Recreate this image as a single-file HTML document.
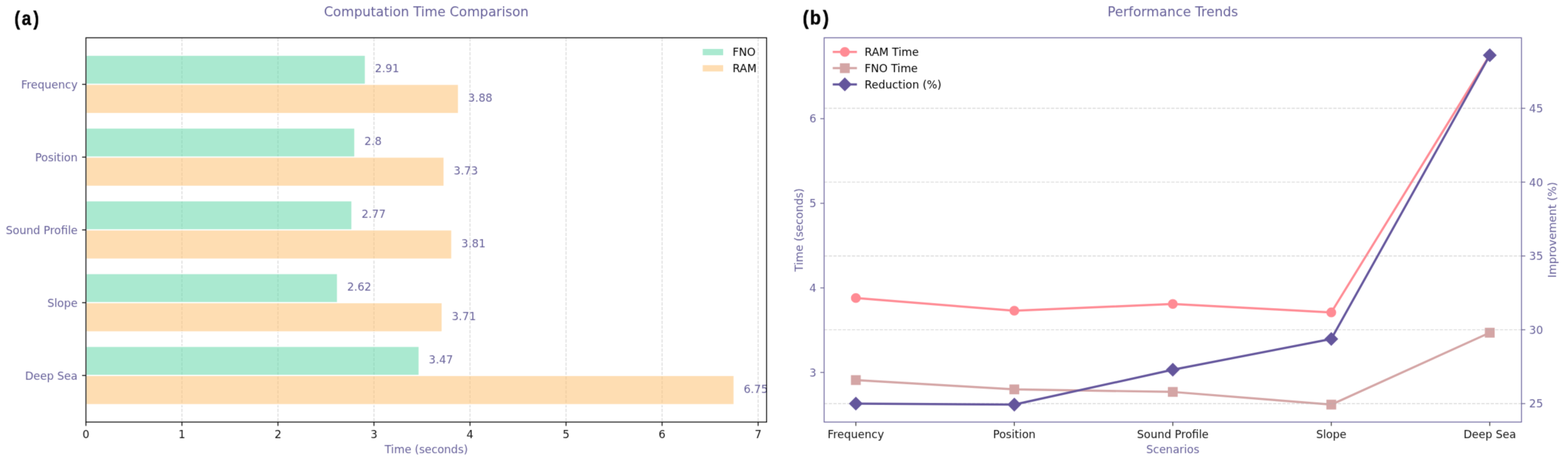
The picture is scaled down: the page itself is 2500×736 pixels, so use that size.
<!DOCTYPE html>
<html><head><meta charset="utf-8"><title>Computation Time Comparison and Performance Trends</title>
<style>html,body{margin:0;padding:0;background:#fff;}svg{display:block;}</style></head>
<body><svg width="2500" height="736" viewBox="0 0 2500 736" font-family="'DejaVu Sans', 'Liberation Sans', sans-serif">
<defs><filter id="bl" x="0" y="0" width="1" height="1" color-interpolation-filters="sRGB"><feConvolveMatrix order="3" kernelMatrix="0.0225 0.1050 0.0225 0.1050 0.4900 0.1050 0.0225 0.1050 0.0225" divisor="1" edgeMode="duplicate" preserveAlpha="true"/></filter></defs>
<rect width="2500" height="736" fill="#fff"/>
<g filter="url(#bl)">
<rect width="2500" height="736" fill="#fff"/>
<text transform="translate(0 39.5) scale(0.84 1)" y="0" font-family="'Liberation Sans', Arial, sans-serif" font-weight="bold" font-size="32.0" fill="#000" stroke="#000" stroke-width="0.5"><tspan x="27.26">(</tspan><tspan x="41.31">a</tspan><tspan x="63.33">)</tspan></text>
<text transform="translate(0 39.4) scale(0.9 1)" y="0" font-family="'Liberation Sans', Arial, sans-serif" font-weight="bold" font-size="32.0" fill="#000" stroke="#000" stroke-width="0.5"><tspan x="1421.92">(</tspan><tspan x="1434.65">b</tspan><tspan x="1457.89">)</tspan></text>
<line x1="290.1" y1="672.4" x2="290.1" y2="60.2" stroke="#b0b0b0" stroke-opacity="0.5" stroke-width="1.39" stroke-dasharray="5.15 2.23" stroke-dashoffset="-1.2"/>
<line x1="443.2" y1="672.4" x2="443.2" y2="60.2" stroke="#b0b0b0" stroke-opacity="0.5" stroke-width="1.39" stroke-dasharray="5.15 2.23" stroke-dashoffset="-1.2"/>
<line x1="596.3" y1="672.4" x2="596.3" y2="60.2" stroke="#b0b0b0" stroke-opacity="0.5" stroke-width="1.39" stroke-dasharray="5.15 2.23" stroke-dashoffset="-1.2"/>
<line x1="749.4" y1="672.4" x2="749.4" y2="60.2" stroke="#b0b0b0" stroke-opacity="0.5" stroke-width="1.39" stroke-dasharray="5.15 2.23" stroke-dashoffset="-1.2"/>
<line x1="902.5" y1="672.4" x2="902.5" y2="60.2" stroke="#b0b0b0" stroke-opacity="0.5" stroke-width="1.39" stroke-dasharray="5.15 2.23" stroke-dashoffset="-1.2"/>
<line x1="1055.6" y1="672.4" x2="1055.6" y2="60.2" stroke="#b0b0b0" stroke-opacity="0.5" stroke-width="1.39" stroke-dasharray="5.15 2.23" stroke-dashoffset="-1.2"/>
<line x1="1208.7" y1="672.4" x2="1208.7" y2="60.2" stroke="#b0b0b0" stroke-opacity="0.5" stroke-width="1.39" stroke-dasharray="5.15 2.23" stroke-dashoffset="-1.2"/>
<rect x="137" y="88.03" width="445.52" height="46.38" fill="#64d7aa" fill-opacity="0.55" stroke="#fff" stroke-width="1.74"/>
<rect x="137" y="134.41" width="594.03" height="46.38" fill="#fdc173" fill-opacity="0.55" stroke="#fff" stroke-width="1.74"/>
<rect x="137" y="203.97" width="428.68" height="46.38" fill="#64d7aa" fill-opacity="0.55" stroke="#fff" stroke-width="1.74"/>
<rect x="137" y="250.35" width="571.06" height="46.38" fill="#fdc173" fill-opacity="0.55" stroke="#fff" stroke-width="1.74"/>
<rect x="137" y="319.92" width="424.09" height="46.38" fill="#64d7aa" fill-opacity="0.55" stroke="#fff" stroke-width="1.74"/>
<rect x="137" y="366.3" width="583.31" height="46.38" fill="#fdc173" fill-opacity="0.55" stroke="#fff" stroke-width="1.74"/>
<rect x="137" y="435.87" width="401.12" height="46.38" fill="#64d7aa" fill-opacity="0.55" stroke="#fff" stroke-width="1.74"/>
<rect x="137" y="482.25" width="568" height="46.38" fill="#fdc173" fill-opacity="0.55" stroke="#fff" stroke-width="1.74"/>
<rect x="137" y="551.82" width="531.26" height="46.38" fill="#64d7aa" fill-opacity="0.55" stroke="#fff" stroke-width="1.74"/>
<rect x="137" y="598.19" width="1033.42" height="46.38" fill="#fdc173" fill-opacity="0.55" stroke="#fff" stroke-width="1.74"/>
<text x="597.83" y="115.42" font-size="17.4" fill="#67619a">2.91</text>
<text x="746.34" y="161.8" font-size="17.4" fill="#67619a">3.88</text>
<text x="580.99" y="231.36" font-size="17.4" fill="#67619a">2.8</text>
<text x="723.37" y="277.74" font-size="17.4" fill="#67619a">3.73</text>
<text x="576.4" y="347.31" font-size="17.4" fill="#67619a">2.77</text>
<text x="735.62" y="393.69" font-size="17.4" fill="#67619a">3.81</text>
<text x="553.43" y="463.26" font-size="17.4" fill="#67619a">2.62</text>
<text x="720.31" y="509.64" font-size="17.4" fill="#67619a">3.71</text>
<text x="683.57" y="579.2" font-size="17.4" fill="#67619a">3.47</text>
<text x="1185.73" y="625.58" font-size="17.4" fill="#67619a">6.75</text>
<rect x="137" y="60.2" width="1085.3" height="612.2" fill="none" stroke="#000000" stroke-width="1.39"/>
<line x1="137" y1="672.4" x2="137" y2="678.49" stroke="#000000" stroke-width="1.39"/>
<text x="137" y="697.8" font-size="17.4" fill="#111" text-anchor="middle">0</text>
<line x1="290.1" y1="672.4" x2="290.1" y2="678.49" stroke="#000000" stroke-width="1.39"/>
<text x="290.1" y="697.8" font-size="17.4" fill="#111" text-anchor="middle">1</text>
<line x1="443.2" y1="672.4" x2="443.2" y2="678.49" stroke="#000000" stroke-width="1.39"/>
<text x="443.2" y="697.8" font-size="17.4" fill="#111" text-anchor="middle">2</text>
<line x1="596.3" y1="672.4" x2="596.3" y2="678.49" stroke="#000000" stroke-width="1.39"/>
<text x="596.3" y="697.8" font-size="17.4" fill="#111" text-anchor="middle">3</text>
<line x1="749.4" y1="672.4" x2="749.4" y2="678.49" stroke="#000000" stroke-width="1.39"/>
<text x="749.4" y="697.8" font-size="17.4" fill="#111" text-anchor="middle">4</text>
<line x1="902.5" y1="672.4" x2="902.5" y2="678.49" stroke="#000000" stroke-width="1.39"/>
<text x="902.5" y="697.8" font-size="17.4" fill="#111" text-anchor="middle">5</text>
<line x1="1055.6" y1="672.4" x2="1055.6" y2="678.49" stroke="#000000" stroke-width="1.39"/>
<text x="1055.6" y="697.8" font-size="17.4" fill="#111" text-anchor="middle">6</text>
<line x1="1208.7" y1="672.4" x2="1208.7" y2="678.49" stroke="#000000" stroke-width="1.39"/>
<text x="1208.7" y="697.8" font-size="17.4" fill="#111" text-anchor="middle">7</text>
<line x1="130.91" y1="134.41" x2="137" y2="134.41" stroke="#000000" stroke-width="1.39"/>
<text x="123.7" y="140.81" font-size="17.4" fill="#67619a" text-anchor="end">Frequency</text>
<line x1="130.91" y1="250.35" x2="137" y2="250.35" stroke="#000000" stroke-width="1.39"/>
<text x="123.7" y="256.75" font-size="17.4" fill="#67619a" text-anchor="end">Position</text>
<line x1="130.91" y1="366.3" x2="137" y2="366.3" stroke="#000000" stroke-width="1.39"/>
<text x="123.7" y="372.7" font-size="17.4" fill="#67619a" text-anchor="end">Sound Profile</text>
<line x1="130.91" y1="482.25" x2="137" y2="482.25" stroke="#000000" stroke-width="1.39"/>
<text x="123.7" y="488.65" font-size="17.4" fill="#67619a" text-anchor="end">Slope</text>
<line x1="130.91" y1="598.19" x2="137" y2="598.19" stroke="#000000" stroke-width="1.39"/>
<text x="123.7" y="604.59" font-size="17.4" fill="#67619a" text-anchor="end">Deep Sea</text>
<text x="679.65" y="721.7" font-size="17.4" fill="#67619a" text-anchor="middle">Time (seconds)</text>
<text x="679.65" y="25.6" font-size="21.0" fill="#67619a" text-anchor="middle">Computation Time Comparison</text>
<rect x="1120.4" y="78" width="32.6" height="10" fill="#64d7aa" fill-opacity="0.55"/>
<rect x="1120.4" y="103.8" width="32.6" height="10" fill="#fdc173" fill-opacity="0.55"/>
<text x="1167.9" y="89.0" font-size="17.4" fill="#000">FNO</text>
<text x="1167.9" y="114.8" font-size="17.4" fill="#000">RAM</text>
<polyline points="1364.54,474.78 1617.22,494.99 1869.9,484.21 2122.58,497.69 2375.26,88.03" fill="none" stroke="#FF8B94" stroke-width="3.48" stroke-linejoin="round" stroke-linecap="butt"/>
<circle cx="1364.54" cy="474.78" r="6.95" fill="#FF8B94" stroke="#FF8B94" stroke-width="1.74"/>
<circle cx="1617.22" cy="494.99" r="6.95" fill="#FF8B94" stroke="#FF8B94" stroke-width="1.74"/>
<circle cx="1869.9" cy="484.21" r="6.95" fill="#FF8B94" stroke="#FF8B94" stroke-width="1.74"/>
<circle cx="2122.58" cy="497.69" r="6.95" fill="#FF8B94" stroke="#FF8B94" stroke-width="1.74"/>
<circle cx="2375.26" cy="88.03" r="6.95" fill="#FF8B94" stroke="#FF8B94" stroke-width="1.74"/>
<polyline points="1364.54,605.49 1617.22,620.32 1869.9,624.36 2122.58,644.57 2375.26,530.03" fill="none" stroke="#D4A5A5" stroke-width="3.48" stroke-linejoin="round"/>
<rect x="1357.59" y="598.54" width="13.9" height="13.9" fill="#D4A5A5" stroke="#D4A5A5" stroke-width="1.74" stroke-linejoin="miter"/>
<rect x="1610.27" y="613.37" width="13.9" height="13.9" fill="#D4A5A5" stroke="#D4A5A5" stroke-width="1.74" stroke-linejoin="miter"/>
<rect x="1862.95" y="617.41" width="13.9" height="13.9" fill="#D4A5A5" stroke="#D4A5A5" stroke-width="1.74" stroke-linejoin="miter"/>
<rect x="2115.63" y="637.62" width="13.9" height="13.9" fill="#D4A5A5" stroke="#D4A5A5" stroke-width="1.74" stroke-linejoin="miter"/>
<rect x="2368.31" y="523.08" width="13.9" height="13.9" fill="#D4A5A5" stroke="#D4A5A5" stroke-width="1.74" stroke-linejoin="miter"/>
<line x1="1314" y1="643" x2="2425.8" y2="643" stroke="#b0b0b0" stroke-opacity="0.5" stroke-width="1.39" stroke-dasharray="5.15 2.23"/>
<line x1="1314" y1="525.38" x2="2425.8" y2="525.38" stroke="#b0b0b0" stroke-opacity="0.5" stroke-width="1.39" stroke-dasharray="5.15 2.23"/>
<line x1="1314" y1="407.77" x2="2425.8" y2="407.77" stroke="#b0b0b0" stroke-opacity="0.5" stroke-width="1.39" stroke-dasharray="5.15 2.23"/>
<line x1="1314" y1="290.15" x2="2425.8" y2="290.15" stroke="#b0b0b0" stroke-opacity="0.5" stroke-width="1.39" stroke-dasharray="5.15 2.23"/>
<line x1="1314" y1="172.54" x2="2425.8" y2="172.54" stroke="#b0b0b0" stroke-opacity="0.5" stroke-width="1.39" stroke-dasharray="5.15 2.23"/>
<polyline points="1364.54,643 1617.22,644.57 1869.9,588.97 2122.58,539.96 2375.26,88.03" fill="none" stroke="#64569c" stroke-width="3.48" stroke-linejoin="round"/>
<polygon points="1364.54,633.17 1374.37,643 1364.54,652.82 1354.71,643" fill="#64569c" stroke="#64569c" stroke-width="1.74" stroke-linejoin="miter"/>
<polygon points="1617.22,634.74 1627.05,644.57 1617.22,654.4 1607.39,644.57" fill="#64569c" stroke="#64569c" stroke-width="1.74" stroke-linejoin="miter"/>
<polygon points="1869.9,579.14 1879.73,588.97 1869.9,598.8 1860.07,588.97" fill="#64569c" stroke="#64569c" stroke-width="1.74" stroke-linejoin="miter"/>
<polygon points="2122.58,530.14 2132.41,539.96 2122.58,549.79 2112.75,539.96" fill="#64569c" stroke="#64569c" stroke-width="1.74" stroke-linejoin="miter"/>
<polygon points="2375.26,78.2 2385.09,88.03 2375.26,97.86 2365.43,88.03" fill="#64569c" stroke="#64569c" stroke-width="1.74" stroke-linejoin="miter"/>
<rect x="1314" y="60.2" width="1111.8" height="612.2" fill="none" stroke="#69629b" stroke-width="1.39"/>
<line x1="1364.54" y1="672.4" x2="1364.54" y2="678.49" stroke="#333" stroke-width="1.39"/>
<text x="1364.54" y="697.6" font-size="17.4" fill="#111" text-anchor="middle">Frequency</text>
<line x1="1617.22" y1="672.4" x2="1617.22" y2="678.49" stroke="#333" stroke-width="1.39"/>
<text x="1617.22" y="697.6" font-size="17.4" fill="#111" text-anchor="middle">Position</text>
<line x1="1869.9" y1="672.4" x2="1869.9" y2="678.49" stroke="#333" stroke-width="1.39"/>
<text x="1869.9" y="697.6" font-size="17.4" fill="#111" text-anchor="middle">Sound Profile</text>
<line x1="2122.58" y1="672.4" x2="2122.58" y2="678.49" stroke="#333" stroke-width="1.39"/>
<text x="2122.58" y="697.6" font-size="17.4" fill="#111" text-anchor="middle">Slope</text>
<line x1="2375.26" y1="672.4" x2="2375.26" y2="678.49" stroke="#333" stroke-width="1.39"/>
<text x="2375.26" y="697.6" font-size="17.4" fill="#111" text-anchor="middle">Deep Sea</text>
<line x1="1307.91" y1="593.37" x2="1314" y2="593.37" stroke="#6c6792" stroke-width="1.39"/>
<text x="1301.7" y="599.77" font-size="17.4" fill="#67619a" text-anchor="end">3</text>
<line x1="1307.91" y1="458.61" x2="1314" y2="458.61" stroke="#6c6792" stroke-width="1.39"/>
<text x="1301.7" y="465.01" font-size="17.4" fill="#67619a" text-anchor="end">4</text>
<line x1="1307.91" y1="323.85" x2="1314" y2="323.85" stroke="#6c6792" stroke-width="1.39"/>
<text x="1301.7" y="330.25" font-size="17.4" fill="#67619a" text-anchor="end">5</text>
<line x1="1307.91" y1="189.09" x2="1314" y2="189.09" stroke="#6c6792" stroke-width="1.39"/>
<text x="1301.7" y="195.49" font-size="17.4" fill="#67619a" text-anchor="end">6</text>
<line x1="2425.8" y1="643" x2="2431.89" y2="643" stroke="#6c6792" stroke-width="1.39"/>
<text x="2438.1" y="649.4" font-size="17.4" fill="#67619a">25</text>
<line x1="2425.8" y1="525.38" x2="2431.89" y2="525.38" stroke="#6c6792" stroke-width="1.39"/>
<text x="2438.1" y="531.78" font-size="17.4" fill="#67619a">30</text>
<line x1="2425.8" y1="407.77" x2="2431.89" y2="407.77" stroke="#6c6792" stroke-width="1.39"/>
<text x="2438.1" y="414.17" font-size="17.4" fill="#67619a">35</text>
<line x1="2425.8" y1="290.15" x2="2431.89" y2="290.15" stroke="#6c6792" stroke-width="1.39"/>
<text x="2438.1" y="296.55" font-size="17.4" fill="#67619a">40</text>
<line x1="2425.8" y1="172.54" x2="2431.89" y2="172.54" stroke="#6c6792" stroke-width="1.39"/>
<text x="2438.1" y="178.94" font-size="17.4" fill="#67619a">45</text>
<text transform="translate(1280.0 366.3) rotate(-90)" font-size="17.4" fill="#67619a" text-anchor="middle">Time (seconds)</text>
<text transform="translate(2480.5 366.3) rotate(-90)" font-size="17.4" fill="#67619a" text-anchor="middle">Improvement (%)</text>
<text x="1869.9" y="721.7" font-size="17.4" fill="#67619a" text-anchor="middle">Scenarios</text>
<text x="1869.9" y="25.6" font-size="21.0" fill="#67619a" text-anchor="middle">Performance Trends</text>
<line x1="1327.7" y1="82.8" x2="1366.3" y2="82.8" stroke="#FF8B94" stroke-width="3.48"/>
<circle cx="1347" cy="82.8" r="6.95" fill="#FF8B94" stroke="#FF8B94" stroke-width="1.74"/>
<text x="1378.5" y="89.2" font-size="17.4" fill="#000">RAM Time</text>
<line x1="1327.7" y1="108.6" x2="1366.3" y2="108.6" stroke="#D4A5A5" stroke-width="3.48"/>
<rect x="1340.05" y="101.65" width="13.9" height="13.9" fill="#D4A5A5" stroke="#D4A5A5" stroke-width="1.74"/>
<text x="1378.5" y="115" font-size="17.4" fill="#000">FNO Time</text>
<line x1="1327.7" y1="134.4" x2="1366.3" y2="134.4" stroke="#64569c" stroke-width="3.48"/>
<polygon points="1347,124.57 1356.83,134.4 1347,144.23 1337.17,134.4" fill="#64569c" stroke="#64569c" stroke-width="1.74"/>
<text x="1378.5" y="140.8" font-size="17.4" fill="#000">Reduction (%)</text>
</g>
</svg></body></html>
